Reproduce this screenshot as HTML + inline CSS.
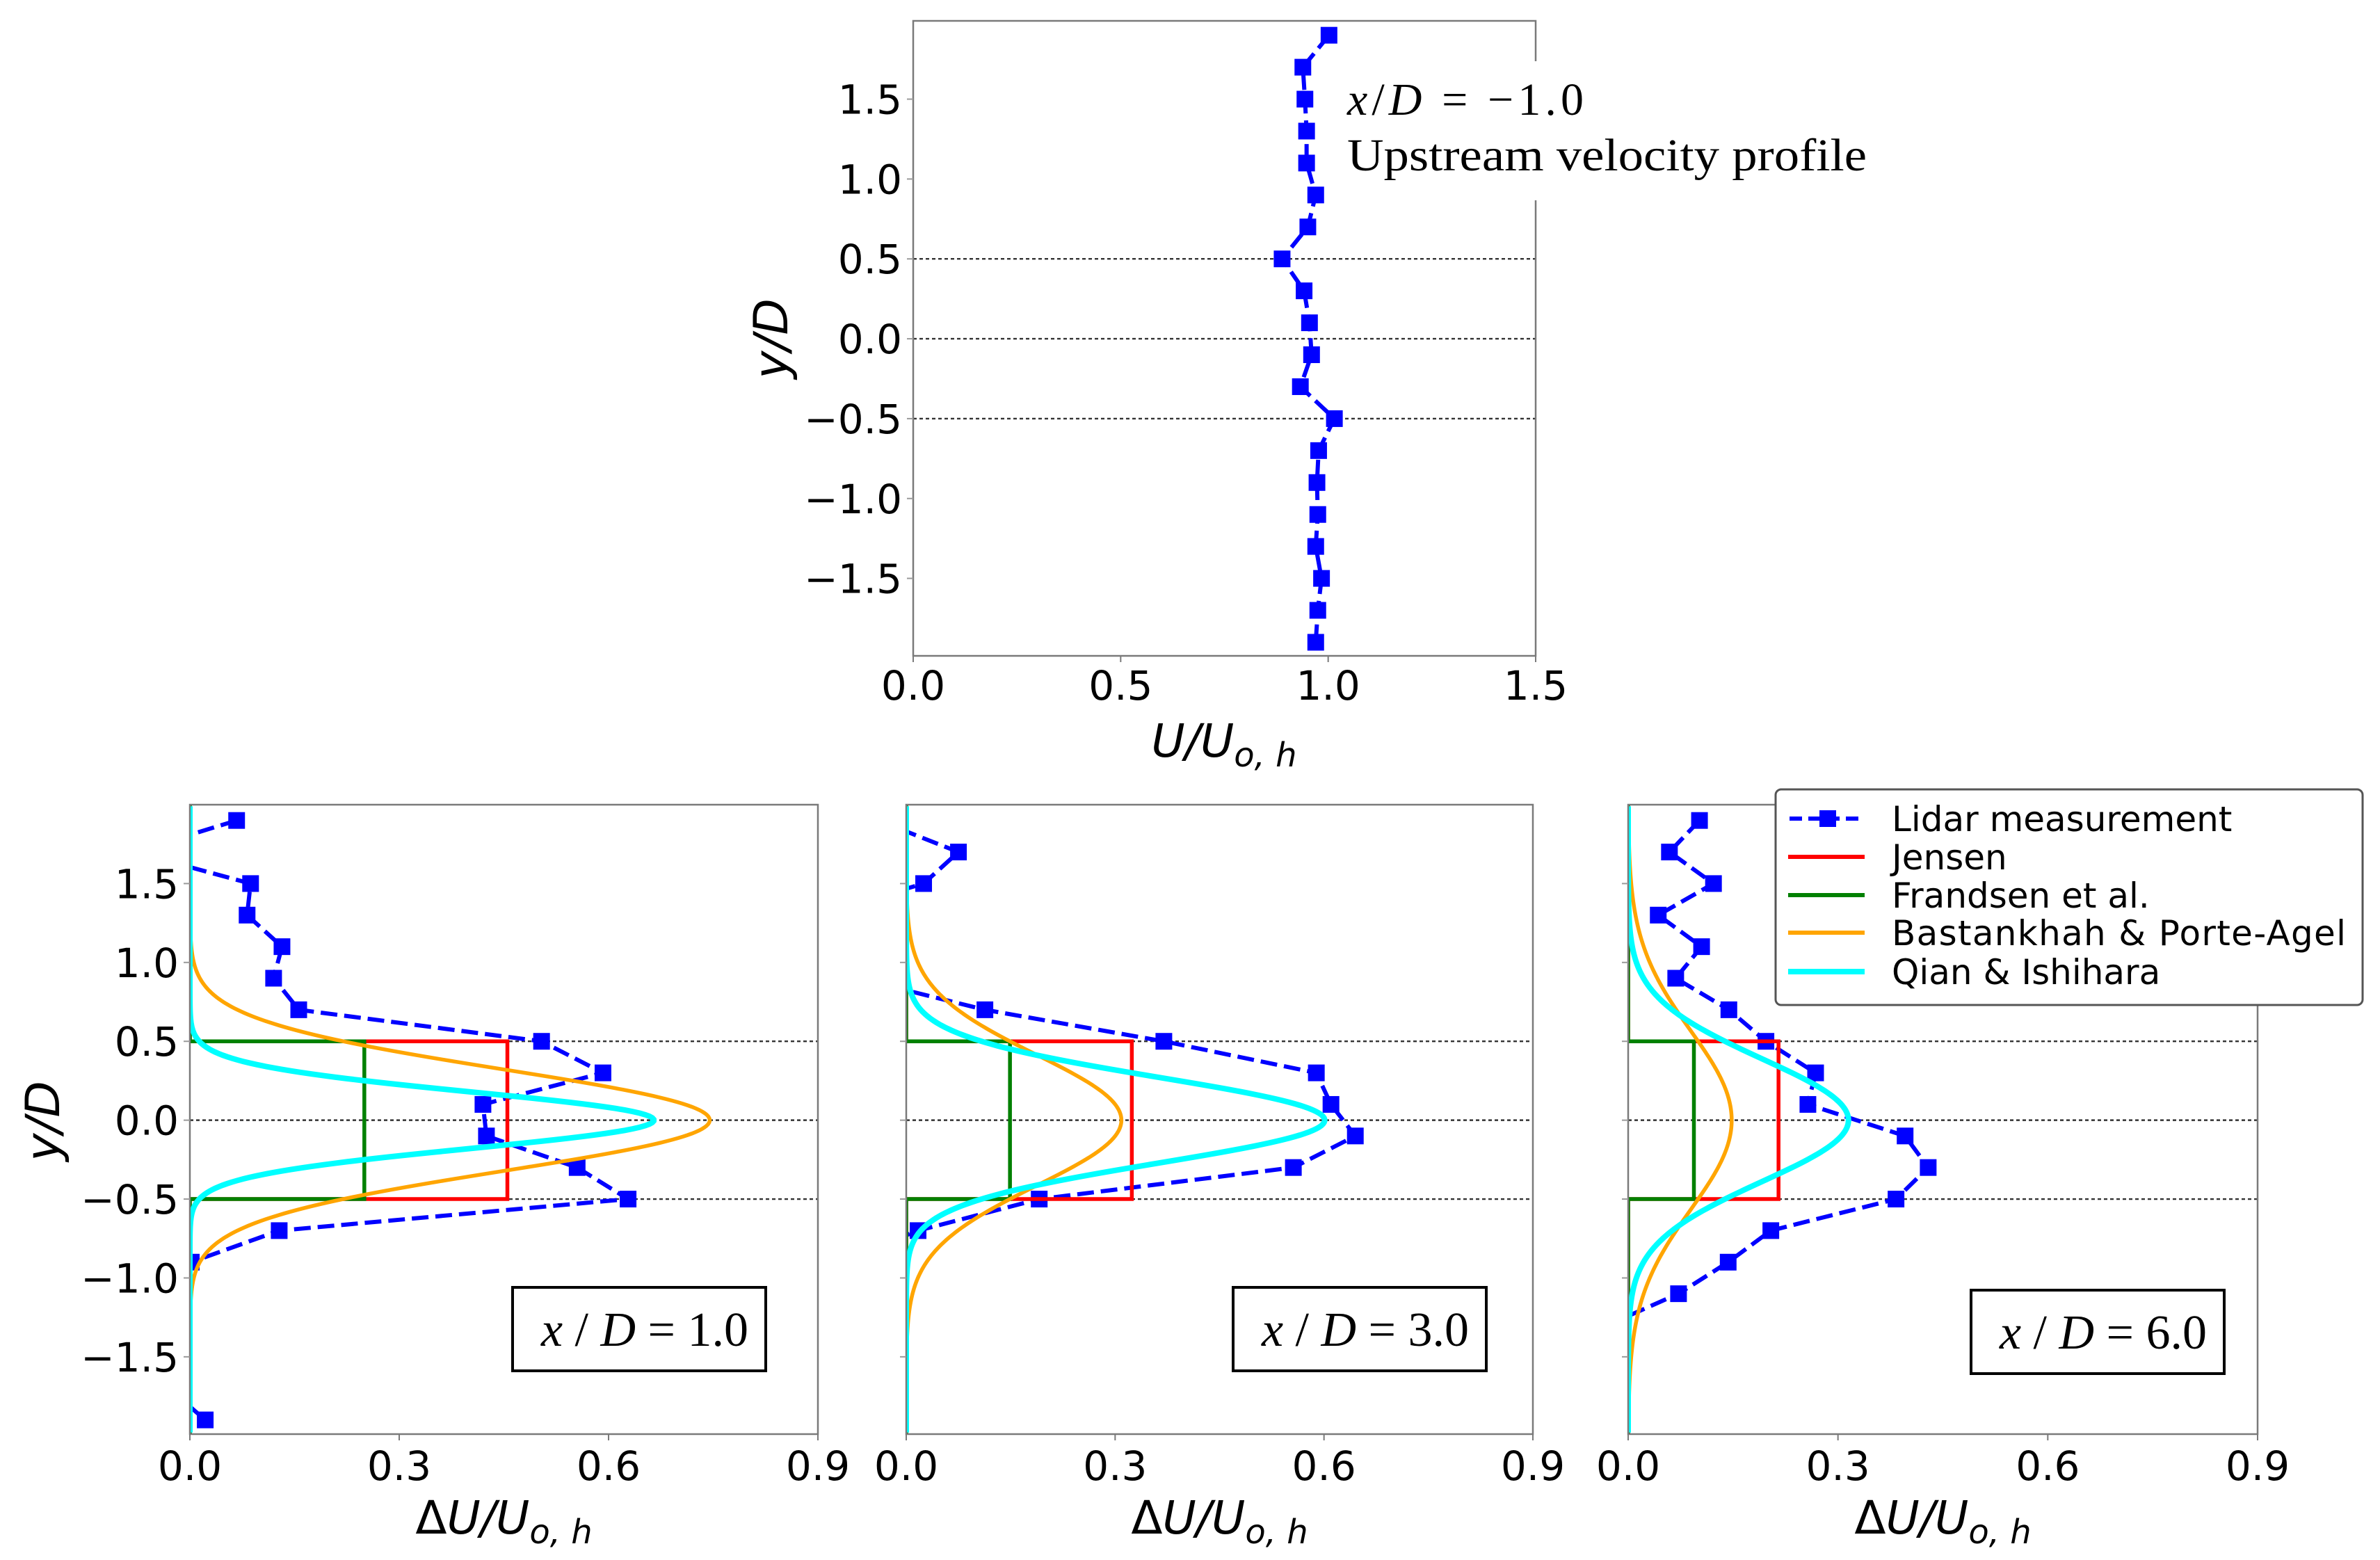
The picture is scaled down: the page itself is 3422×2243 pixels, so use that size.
<!DOCTYPE html>
<html><head><meta charset="utf-8"><title>Wake profiles</title>
<style>html,body{margin:0;padding:0;background:#fff}svg{display:block}</style></head>
<body>
<svg id="fig" xmlns="http://www.w3.org/2000/svg" width="3422" height="2243" viewBox="0 0 3422 2243" font-family="'DejaVu Sans','Liberation Sans',sans-serif"></svg>
<script>
// ---- data ----
const upY = [1.9,1.7,1.5,1.3,1.1,0.9,0.7,0.5,0.3,0.1,-0.1,-0.3,-0.5,-0.7,-0.9,-1.1,-1.3,-1.5,-1.7,-1.9];
const upU = [1.002,0.939,0.944,0.948,0.948,0.970,0.951,0.889,0.942,0.955,0.960,0.933,1.015,0.977,0.973,0.975,0.970,0.984,0.975,0.970];
const lidarY = [1.9,1.7,1.5,1.3,1.1,0.9,0.7,0.5,0.3,0.1,-0.1,-0.3,-0.5,-0.7,-0.9,-1.1,-1.3,-1.5,-1.7,-1.9];
const lidar1 = [0.067,-0.08,0.087,0.082,0.132,0.120,0.156,0.504,0.592,0.420,0.425,0.555,0.628,0.128,0.002,-0.10,-0.15,-0.10,-0.03,0.022];
const lidar3 = [-0.04,0.075,0.025,-0.13,-0.10,-0.07,0.113,0.370,0.589,0.610,0.645,0.556,0.191,0.017,-0.10,-0.15,-0.12,-0.10,-0.10,-0.10];
const lidar6 = [0.102,0.059,0.122,0.043,0.105,0.068,0.144,0.197,0.268,0.257,0.396,0.429,0.383,0.204,0.143,0.072,-0.03,-0.10,-0.10,-0.10];
const jensen = [0.455,0.324,0.215];
const frandsen = [0.250,0.149,0.094];
const bastPeak = [0.745,0.309,0.148];
const bastSigma = [0.32,0.414,0.565];
const qianPeak = [0.665,0.601,0.315];
const qianSigma = [0.179,0.27,0.39];
const xTicksBottom = ["0.0","0.3","0.6","0.9"];
const xTickValsBottom = [0,0.3,0.6,0.9];
const xTicksTop = ["0.0","0.5","1.0","1.5"];
const xTickValsTop = [0,0.5,1.0,1.5];
const yTickVals = [-1.5,-1.0,-0.5,0.0,0.5,1.0,1.5];
const yTickLabels = ["\u22121.5","\u22121.0","\u22120.5","0.0","0.5","1.0","1.5"];
const caseLabels = ["1.0","3.0","6.0"];

const NS = "http://www.w3.org/2000/svg";
const svg = document.getElementById('fig');
function el(tag, attrs, parent){
  const e = document.createElementNS(NS, tag);
  for (const k in attrs) e.setAttribute(k, attrs[k]);
  (parent||svg).appendChild(e);
  return e;
}
let clipId = 0;
function makeAxes(box, xmin, xmax, ymin, ymax){
  const sx = v => box.x0 + (v-xmin)/(xmax-xmin)*(box.x1-box.x0);
  const sy = v => box.y1 - (v-ymin)/(ymax-ymin)*(box.y1-box.y0);
  return {sx, sy};
}
function clip(box){
  const id = 'c'+(clipId++);
  const cp = el('clipPath',{id:id});
  el('rect',{x:box.x0,y:box.y0,width:box.x1-box.x0,height:box.y1-box.y0},cp);
  return id;
}
function hlines(box, ax, g){
  [0.5,0,-0.5].forEach(v=>{
    const l = el('line',{x1:box.x0,x2:box.x1,y1:ax.sy(v),y2:ax.sy(v),stroke:'#333','stroke-width':2.4,'stroke-dasharray':'5 4'},g);
    
    
  });
}
function lidarSeries(xs, ys, ax, g){
  const pts = xs.map((v,i)=>ax.sx(v)+','+ax.sy(ys[i])).join(' ');
  const pl = el('polyline',{points:pts,fill:'none',stroke:'#0000ff','stroke-width':6,'stroke-dasharray':'24 10'},g);
  
  
  xs.forEach((v,i)=>{
    const r = el('rect',{x:ax.sx(v)-12,y:ax.sy(ys[i])-12,width:24,height:24,fill:'#0000ff'},g);
    
    
  });
}
function stepSeries(v, ax, color, name, g){
  const xs=[0,0,v,v,0,0], ys=[-2.1,-0.5,-0.5,0.5,0.5,2.1];
  const pts = xs.map((x,i)=>ax.sx(x)+','+ax.sy(ys[i])).join(' ');
  const p = el('polyline',{points:pts,fill:'none',stroke:color,'stroke-width':5.5},g);
  
  
}
function gaussSeries(peak, sig, ax, color, w, name, g){
  let pts=[];
  for(let i=0;i<=400;i++){
    const y = -1.98 + i*3.97/400;
    const x = peak*Math.exp(-0.5*(y/sig)*(y/sig));
    pts.push(ax.sx(x)+','+ax.sy(y));
  }
  const p = el('polyline',{points:pts.join(' '),fill:'none',stroke:color,'stroke-width':w},g);
  
  
}
function frame(box, g){
  const r = el('rect',{x:box.x0,y:box.y0,width:box.x1-box.x0,height:box.y1-box.y0,fill:'none',stroke:'#7a7a7a','stroke-width':2.5},g);
  
  
}
function xTicks(box, ax, vals, labels, g, baseline){
  vals.forEach((v,i)=>{
    el('line',{x1:ax.sx(v),x2:ax.sx(v),y1:box.y1,y2:box.y1+9,stroke:'#7a7a7a','stroke-width':2},g);
    const t = el('text',{x:ax.sx(v),y:baseline,'font-size':58,'text-anchor':'middle',fill:'#000'},g);
    t.textContent = labels[i];
    
    
  });
}
function yTicks(box, ax, g, withLabels, rightX){
  yTickVals.forEach((v,i)=>{
    el('line',{x1:box.x0-9,x2:box.x0,y1:ax.sy(v),y2:ax.sy(v),stroke:'#9a9a9a','stroke-width':2},g);
    if(withLabels){
      const t = el('text',{x:rightX,y:ax.sy(v)+21,'font-size':58,'text-anchor':'end',fill:'#000'},g);
      t.textContent = yTickLabels[i];
      
      
    }
  });
}

// ---- top plot ----
{
  const g = el('g',{});  
  const box = {x0:1313,x1:2208,y0:30,y1:943};
  const ax = makeAxes(box,0,1.5,-1.985,1.99);
  const cid = clip(box);
  const inner = el('g',{'clip-path':'url(#'+cid+')'},g);
  hlines(box, ax, inner);
  lidarSeries(upU, upY, ax, inner);
  frame(box, g);
  xTicks(box, ax, xTickValsTop, xTicksTop, g, 1006);
  yTicks(box, ax, g, true, 1297);
  const xl = el('text',{x:1760,y:1088,'font-size':66,'text-anchor':'middle','font-style':'italic'},g);
  xl.innerHTML = 'U/U<tspan font-size="48" dy="14">o, h</tspan>';
   
  const yl = el('text',{x:0,y:0,'font-size':68,'text-anchor':'middle','font-style':'italic',transform:'translate(1132,487) rotate(-90)'},g);
  yl.textContent='y/D';
   
  const bg = el('rect',{x:1925,y:88,width:780,height:200,fill:'#fff'},g);
   
  const a1 = el('text',{x:1937,y:165,'font-size':66,'font-family':"'Liberation Serif',serif",textLength:340,lengthAdjust:'spacing'},g);
  a1.innerHTML = '<tspan font-style="italic">x</tspan>/<tspan font-style="italic">D</tspan> = \u22121.0';
   
  const a2 = el('text',{x:1937,y:245,'font-size':66,'font-family':"'Liberation Serif',serif",textLength:747,lengthAdjust:'spacingAndGlyphs'},g);
  a2.textContent='Upstream  velocity  profile';
   
}

// ---- bottom plots ----
const boxes = [{x0:273,x1:1176,y0:1157,y1:2062},{x0:1303,x1:2204,y0:1157,y1:2062},{x0:2341,x1:3246,y0:1157,y1:2062}];
const lidars = [lidar1,lidar3,lidar6];
const labelBoxes = [{x:737,y:1851},{x:1773,y:1851},{x:2834,y:1855}];
boxes.forEach((box,k)=>{
  const g = el('g',{});  
  const ax = makeAxes(box,0,0.9,-1.99,2.0);
  const cid = clip(box);
  const inner = el('g',{'clip-path':'url(#'+cid+')'},g);
  hlines(box, ax, inner);
  lidarSeries(lidars[k], lidarY, ax, inner);
  stepSeries(jensen[k], ax, '#ff0000', 'jensen-line', inner);
  stepSeries(frandsen[k], ax, '#008000', 'frandsen-line', inner);
  gaussSeries(bastPeak[k], bastSigma[k], ax, '#ffa500', 5.5, 'bastankhah-line', inner);
  gaussSeries(qianPeak[k], qianSigma[k], ax, '#00ffff', 8, 'qian-line', inner);
  frame(box, g);
  xTicks(box, ax, xTickValsBottom, xTicksBottom, g, 2128);
  yTicks(box, ax, g, k===0, 257);
  const xl = el('text',{x:(box.x0+box.x1)/2,y:2205,'font-size':66,'text-anchor':'middle'},g);
  xl.innerHTML = '\u0394<tspan font-style="italic">U/U</tspan><tspan font-size="48" dy="14" font-style="italic">o, h</tspan>';
   
  if(k===0){
    const yl = el('text',{x:0,y:0,'font-size':68,'text-anchor':'middle','font-style':'italic',transform:'translate(85,1612) rotate(-90)'},g);
    yl.textContent='y/D';
     
  }
  const lb = labelBoxes[k];
  const r = el('rect',{x:lb.x,y:lb.y,width:364,height:120,fill:'#fff',stroke:'#000','stroke-width':4},g);
   
  const t = el('text',{x:lb.x+190,y:lb.y+84,'font-size':70,'text-anchor':'middle','font-family':"'Liberation Serif',serif"},g);
  t.innerHTML = '<tspan font-style="italic">x</tspan> / <tspan font-style="italic">D</tspan> = '+caseLabels[k];
   
});

// ---- legend ----
{
  const g = el('g',{});  
  el('rect',{x:2553,y:1135,width:844,height:310,rx:8,fill:'#fff',stroke:'#555','stroke-width':3},g);
  const names = ['Lidar measurement','Jensen','Frandsen et al.','Bastankhah & Porte-Agel','Qian & Ishihara'];
  const colors = ['#0000ff','#ff0000','#008000','#ffa500','#00ffff'];
  const rows = [1177,1232,1287,1341,1397];
  names.forEach((n,i)=>{
    const e = el('g',{},g);
     
    if(i===0){
      el('line',{x1:2573,x2:2681,y1:rows[i],y2:rows[i],stroke:colors[i],'stroke-width':6,'stroke-dasharray':'18 9'},e);
      el('rect',{x:2616,y:rows[i]-12,width:24,height:24,fill:colors[i]},e);
    } else {
      el('line',{x1:2571,x2:2681,y1:rows[i],y2:rows[i],stroke:colors[i],'stroke-width':i===4?8:6},e);
    }
    const t = el('text',{x:2720,y:rows[i]+18,'font-size':50,fill:'#000',textLength:i===3?653:null},e);
    if(i!==3) t.removeAttribute('textLength');
    t.textContent = n;
  });
}
</script>
</body></html>
